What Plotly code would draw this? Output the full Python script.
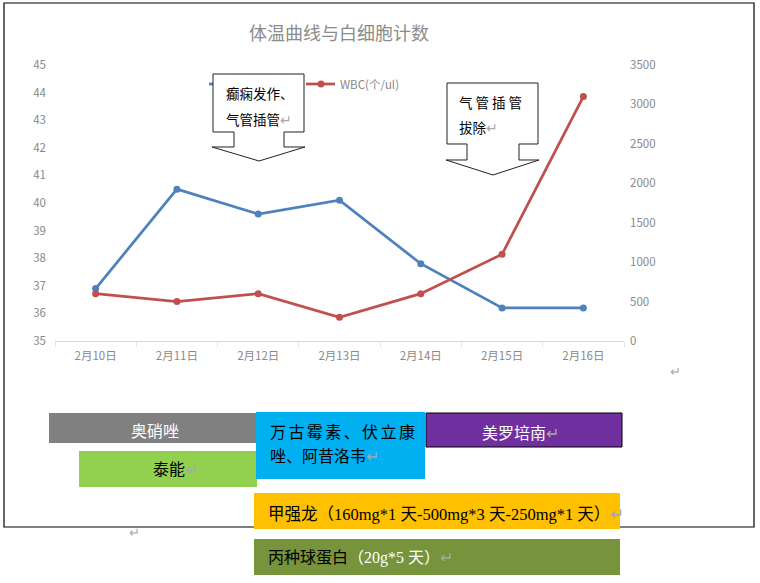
import plotly.graph_objects as go

dates = ["2月10日", "2月11日", "2月12日", "2月13日", "2月14日", "2月15日", "2月16日"]
temp = [36.9, 40.5, 39.6, 40.1, 37.8, 36.2, 36.2]
wbc = [600, 500, 600, 300, 600, 1100, 3100]

temp_ticks = [35, 36, 37, 38, 39, 40, 41, 42, 43, 44, 45]
wbc_ticks = [0, 500, 1000, 1500, 2000, 2500, 3000, 3500]

# plot area in page pixels (the overlays are placed in pixels too)
W, H = 760, 583
L, R, T, B = 55, 624, 65, 341

CJK = "Noto Sans CJK SC"
SERIF = "Liberation Serif, " + CJK
GREY = "#888888"
RET = '<span style="color:#a8a8a8">↵</span>'
# small even gap for the justified line
GAP = '<span style="font-size:12px">\u2009</span>'


def px(x):
    return (x - L) / (R - L)


def py(y):
    return (B - y) / (B - T)


fig = go.Figure()
fig.add_trace(go.Scatter(
    x=dates, y=temp, name="体温(℃)", mode="lines+markers",
    line=dict(color="#4F81BD", width=2.75), marker=dict(size=7),
))
fig.add_trace(go.Scatter(
    x=dates, y=wbc, name="WBC(个/ul)", mode="lines+markers", yaxis="y2",
    line=dict(color="#C0504D", width=2.75), marker=dict(size=7),
))

shapes = []
annos = []


def rect(x0, y0, x1, y1, fill, line=None):
    shapes.append(dict(
        type="rect", xref="paper", yref="paper",
        x0=px(x0), x1=px(x1), y0=py(y1), y1=py(y0),
        fillcolor=fill, line=dict(color=line or fill, width=1 if line else 0),
    ))


def text(x, y, s, size=16, color="black", family=CJK, anchor="left"):
    annos.append(dict(
        xref="paper", yref="paper", x=px(x), y=py(y), text=s, showarrow=False,
        xanchor=anchor, yanchor="middle", font=dict(size=size, color=color, family=family),
    ))


def callout(bx0, by0, bx1, by1, sx0, sx1, wy, tx, ty):
    pts = [(bx0, by0), (bx1, by0), (bx1, by1), (sx1, by1), (sx1, wy), (bx1 + 1, wy),
           (tx, ty), (bx0 - 1, wy), (sx0, wy), (sx0, by1), (bx0, by1)]
    path = "M " + " L ".join(f"{px(a):.5f},{py(b):.5f}" for a, b in pts) + " Z"
    shapes.append(dict(type="path", xref="paper", yref="paper", path=path,
                       fillcolor="white", line=dict(color="#222222", width=1)))


# page frame
shapes.append(dict(type="rect", xref="paper", yref="paper",
                   x0=px(4), x1=px(754), y0=py(527), y1=py(3),
                   line=dict(color="black", width=1.2)))

# hand-made legend (the first entry is hidden under the callout)
shapes.append(dict(type="line", xref="paper", yref="paper", x0=px(209), x1=px(238),
                   y0=py(84), y1=py(84), line=dict(color="#4F81BD", width=2.75)))
shapes.append(dict(type="line", xref="paper", yref="paper", x0=px(306), x1=px(335),
                   y0=py(84), y1=py(84), line=dict(color="#C0504D", width=2.75)))
shapes.append(dict(type="circle", xref="paper", yref="paper", x0=px(317.5), x1=px(324.5),
                   y0=py(87.5), y1=py(80.5), fillcolor="#C0504D", line=dict(width=0)))
text(338, 84, "WBC(个/ul)", size=11.5, color=GREY)

# callouts
callout(213, 74, 304, 132, 234, 284, 147, 259, 161)
text(224, 93, "癫痫发作、", size=13.5)
text(224, 119, "气管插管" + RET, size=13.5)
callout(447, 83, 538, 144, 467, 519, 160, 493, 175)
text(457, 102, "气 管 插 管", size=13.5)
text(457, 127, "拔除" + RET, size=13.5)

# drug boxes
rect(49, 413, 256, 443, "#808080")
text(155, 430, "奥硝唑", color="white", anchor="center")
rect(79, 451, 257, 487, "#92D050")
text(151, 468, "泰能" + RET)
rect(256, 412, 425, 479, "#00B0F0")
text(268, 431, GAP.join("万古霉素、伏立康"))
text(268, 455, "唑、阿昔洛韦" + RET)
rect(426, 413, 622, 447, "#7030A0", line="black")
text(480, 432, "美罗培南" + RET, color="white")
rect(254, 493, 620, 529, "#FFC000")
text(266, 514, "甲强龙（160mg*1 天-500mg*3 天-250mg*1 天）" + RET, size=16.5, family=SERIF)
rect(254, 539, 620, 575, "#77933C")
text(266, 558, '丙种球蛋白<span style="color:white">（20g*5 天）</span>' + RET, family=SERIF)

# stray paragraph marks of the page
text(668, 370, RET, size=13)
text(127, 531, RET, size=13)

fig.update_layout(
    width=W, height=H, autosize=False,
    margin=dict(l=L, r=W - R, t=T, b=H - B, pad=0),
    paper_bgcolor="white", plot_bgcolor="white",
    showlegend=False,
    font=dict(family=CJK, color=GREY, size=11.5),
    title=dict(text="体温曲线与白细胞计数", x=339 / W, xanchor="center",
               y=1 - 34 / H, yanchor="middle",
               font=dict(size=18, color="#8C8C8C", family=CJK)),
    xaxis=dict(type="category", range=[-0.5, 6.5], showgrid=False, zeroline=False,
               showline=True, linecolor="#D9D9D9", linewidth=1,
               ticks="outside", tickson="boundaries", ticklen=5, tickcolor="#E6E6E6",
               tickfont=dict(size=11.5, color=GREY), ticklabelstandoff=4),
    yaxis=dict(range=[35, 45], tickvals=temp_ticks, showgrid=False, zeroline=False,
               showline=False, ticks="", tickfont=dict(size=11.5, color=GREY),
               ticklabelstandoff=8),
    yaxis2=dict(range=[0, 3500], tickvals=wbc_ticks, overlaying="y", side="right",
                showgrid=False, zeroline=False, showline=False, ticks="",
                tickfont=dict(size=11.5, color=GREY), ticklabelstandoff=5),
    shapes=shapes,
    annotations=annos,
)

# the page itself should start at the corner, like the screenshot
fig.write_html("out.html", config={"displayModeBar": False},
               post_script="document.body.style.margin='0px';")
